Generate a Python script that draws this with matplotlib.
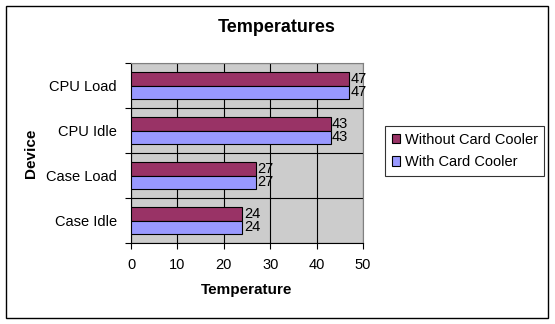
import matplotlib.pyplot as plt
import numpy as np
from matplotlib.patches import Rectangle

devices = ["Case Idle", "Case Load", "CPU Idle", "CPU Load"]
without_cooler = [24, 27, 43, 47]
with_cooler = [24, 27, 43, 47]
x_ticks = [0, 10, 20, 30, 40, 50]

plt.rcParams['font.family'] = ['Liberation Sans', 'DejaVu Sans']

fig = plt.figure(figsize=(5.55, 3.24), dpi=100)
fig.patches.append(Rectangle((6 / 555, 6 / 324), 542 / 555, 312 / 324,
                             transform=fig.transFigure, fill=False,
                             edgecolor='black', linewidth=1))

ax = fig.add_axes([131 / 555, 81 / 324, 232 / 555, 180 / 324])
ax.set_facecolor('#CCCCCC')

y = np.arange(len(devices))
h = 0.29
ax.barh(y + h / 2, without_cooler, height=h, color='#993366',
        edgecolor='black', linewidth=0.8, label='Without Card Cooler', zorder=3)
ax.barh(y - h / 2, with_cooler, height=h, color='#9999FF',
        edgecolor='black', linewidth=0.8, label='With Card Cooler', zorder=3)

for i in range(len(devices)):
    ax.text(without_cooler[i] + 0.3, y[i] + h / 2, str(without_cooler[i]),
            va='center', ha='left', fontsize=10.5, zorder=4)
    ax.text(with_cooler[i] + 0.3, y[i] - h / 2, str(with_cooler[i]),
            va='center', ha='left', fontsize=10.5, zorder=4)

ax.set_xlim(0, 50)
ax.set_ylim(-0.5, len(devices) - 0.5)
ax.set_xticks(x_ticks)
ax.set_xticklabels([str(t) for t in x_ticks], fontsize=10.5)
ax.set_yticks(np.arange(-0.5, len(devices), 1.0))
ax.set_yticklabels([])
ax.set_yticks(y, minor=True)
ax.set_yticklabels(devices, minor=True, fontsize=10.5)
ax.tick_params(axis='y', which='minor', length=0, pad=10)
ax.tick_params(axis='y', which='major', length=4, direction='out', color='black')
ax.tick_params(axis='x', length=4, direction='out', pad=7)
ax.grid(True, which='major', color='black', linewidth=0.8, zorder=0)
ax.set_axisbelow(True)

for side in ['top', 'right']:
    ax.spines[side].set_color('#808080')
for side in ['left', 'bottom']:
    ax.spines[side].set_color('black')

ax.set_xlabel('Temperature', fontsize=11, fontweight='bold', labelpad=8)
ax.set_ylabel('Device', fontsize=11, fontweight='bold', labelpad=6)
fig.text(277 / 555, 1 - 27 / 324, 'Temperatures', ha='center', va='center',
         fontsize=13, fontweight='bold')

leg = fig.legend(loc='center left', bbox_to_anchor=(385 / 555, 1 - 151 / 324),
                 fontsize=10.5, frameon=True, fancybox=False, edgecolor='black',
                 handlelength=0.6, handleheight=0.6, handletextpad=0.3,
                 borderpad=0.45, borderaxespad=0, labelspacing=0.55)
leg.get_frame().set_linewidth(0.8)

fig.savefig('out.png', dpi=100)
